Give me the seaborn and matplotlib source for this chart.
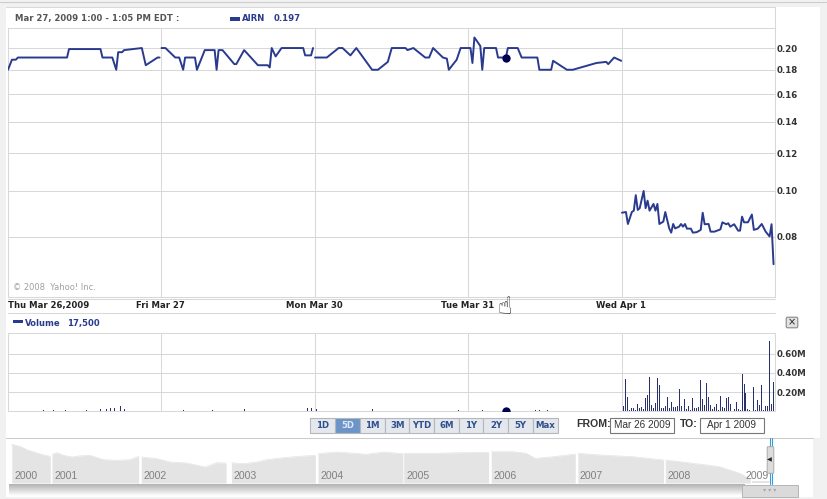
import numpy as np
import pandas as pd
import matplotlib
matplotlib.use("Agg")
import matplotlib.pyplot as plt
import seaborn as sns
from matplotlib.patches import Rectangle, FancyBboxPatch

# cours AIRN, temps en minutes de bourse depuis l'ouverture du 26 mars
t_seg1 = [0, 10, 20, 25, 150, 155, 235, 240, 265, 275, 280, 290, 295, 340, 350, 380, 385]
p_seg1 = [.18, .189, .189, .191, .191, .199, .199, .191, .191, .18, .196, .196, .198, .2, .184, .191, .191]
t_seg2 = [390, 400, 425, 435, 445, 450, 475, 480, 500, 525, 530, 535, 545, 575, 580, 600, 635, 660, 665, 670, 680, 695, 750, 755, 770, 775]
p_seg2 = [.2, .2, .191, .191, .18, .191, .191, .18, .198, .198, .18, .198, .198, .185, .185, .198, .184, .184, .182, .2, .192, .2, .2, .193, .193, .2]
t_seg3 = [780, 810, 840, 850, 870, 885, 925, 940, 965, 975, 1010, 1015, 1030, 1060, 1070, 1080, 1105, 1115, 1120, 1140, 1150, 1170,
          1175, 1180, 1185, 1200, 1205, 1210, 1240, 1245, 1265, 1270, 1295, 1305, 1345, 1350, 1380, 1385, 1420, 1435, 1495, 1520, 1525, 1540, 1558]
p_seg3 = [.191, .191, .2, .2, .193, .2, .18, .18, .187, .2, .2, .198, .2, .191, .191, .2, .191, .19, .18, .189, .2, .2,
          .2, .186, .2105, .202, .18, .2, .2, .191, .191, .2, .2, .191, .191, .18, .18, .188, .18, .18, .186, .187, .185, .191, .188]
t_seg4 = [1560, 1570, 1575, 1585, 1590, 1595, 1600, 1605, 1615, 1620, 1625, 1630, 1640, 1645, 1650, 1655, 1665, 1670, 1680, 1685,
          1690, 1695, 1705, 1710, 1715, 1720, 1725, 1735, 1740, 1750, 1760, 1765, 1770, 1780, 1785, 1795, 1810, 1815, 1825, 1830,
          1835, 1845, 1855, 1860, 1865, 1870, 1880, 1890, 1895, 1905, 1915, 1925, 1935, 1940, 1945]
p_seg4 = [.09, .0903, .0852, .0903, .0909, .098, .0912, .092, .1, .092, .0954, .0909, .0939, .0909, .0939, .0852, .0862, .0903, .0834, .0817,
          .0852, .0834, .0841, .0852, .0841, .0852, .0833, .0833, .0817, .0819, .0828, .09, .0851, .0852, .0821, .0821, .083, .0859, .0851, .0855,
          .0841, .0851, .0825, .0825, .0883, .0859, .0859, .0892, .0828, .0833, .0852, .0821, .0802, .0851, .0701]

t_vol_old = [90, 115, 145, 200, 235, 250, 260, 270, 285, 295, 445, 520, 600, 625, 760, 770, 785, 925, 1145, 1205, 1340, 1350, 1370]
v_vol_old = [.01, .01, .01, .01, .02, .02, .03, .03, .05, .02, .01, .01, .02, .02, .03, .03, .02, .02, .01, .01, .01, .01, .01]
t_vol_apr1 = list(range(1565, 1950, 5))
v_vol_apr1 = [.06, .34, .146, .01, .03, .03, .01, .08, .03, .04, .02, .14, .167, .354, .07, .035, .09, .345, .27, .03,
              .035, .06, .146, .035, .10, .04, .045, .05, .23, .06, .045, .125, .02, .05, .01, .135, .035, .03, .04, .32,
              .125, .07, .29, .15, .07, .02, .045, .08, .01, .156, .04, .03, .135, .146, .08, .005, .02, .10, .02, .01,
              .385, .28, .19, .02, .01, .005, .25, .01, .115, .07, .27, .01, .06, .06, .73, .08, .30]

day_edges = [0, 390, 780, 1170, 1560, 1950]
day_labels = ["Thu Mar 26,2009", "Fri Mar 27", "Mon Mar 30", "Tue Mar 31", "Wed Apr 1"]
price_ticks = [.08, .10, .12, .14, .16, .18, .20]
price_labels = ["0.08", "0.10", "0.12", "0.14", "0.16", "0.18", "0.20"]
vol_ticks = [.2, .4, .6]
vol_labels = ["0.20M", "0.40M", "0.60M"]
range_buttons = ["1D", "5D", "1M", "3M", "YTD", "6M", "1Y", "2Y", "5Y", "Max"]

# navigateur : historique par tranche annuelle (niveau relatif)
nav_years = [
    [2000.54, 2000.63, 2000.73, 2000.83, 2000.92, 2000.98],
    [2001.00, 2001.06, 2001.13, 2001.23, 2001.30, 2001.43, 2001.59, 2001.74, 2001.89, 2001.99],
    [2002.02, 2002.20, 2002.35, 2002.54, 2002.75, 2002.88, 2002.99],
    [2003.05, 2003.19, 2003.34, 2003.45, 2003.64, 2003.83, 2004.01],
    [2004.04, 2004.25, 2004.52, 2004.59, 2004.79, 2005.01],
    [2005.02, 2005.36, 2005.66, 2005.99],
    [2006.02, 2006.27, 2006.42, 2006.52, 2006.73, 2006.98],
    [2007.01, 2007.26, 2007.64, 2007.99],
    [2008.01, 2008.33, 2008.63, 2008.86, 2008.98],
    [2009.00, 2009.20],
]
nav_levels = [
    [38.7, 36.7, 32.7, 30, 27.7, 26.7],
    [28.7, 30.3, 27.7, 26, 27, 27.7, 23.3, 22.7, 23.3, 26.7],
    [26, 24.3, 21, 20, 16, 20.3, 20],
    [20.3, 19.3, 21, 23.3, 25.3, 26.7, 27.7],
    [29.3, 31, 29.3, 28.7, 31, 29.3],
    [29.7, 29.7, 30.3, 30.7],
    [31.3, 31.3, 29.7, 24.7, 26.3, 29],
    [29.7, 28, 26.3, 23],
    [23, 19.7, 16.3, 9.7, 4],
    [2, 2],
]
nav_names = ["2000", "2001", "2002", "2003", "2004", "2005", "2006", "2007", "2008", "2009"]

W, H = 828, 499
BLUE = "#2a3b8f"
NAVY = "#000050"
GRID = "#d8d8d8"


def px_axes(x0, y0, x1, y1, **kw):
    # axes placés en pixels de l'image
    return fig.add_axes([x0 / W, 1 - y1 / H, (x1 - x0) / W, (y1 - y0) / H], **kw)


sns.set_theme(style="white")
plt.rcParams["font.family"] = ["DejaVu Sans"]

fig = plt.figure(figsize=(W / 100, H / 100), dpi=100, facecolor="#f1f1f1")
fig.add_artist(Rectangle((6 / W, 1 - 438 / H), 814 / W, 431 / H, transform=fig.transFigure, fc="white", ec="none", zorder=-5))
fig.add_artist(Rectangle((6 / W, 1 - 497 / H), 807 / W, 59 / H, transform=fig.transFigure, fc="white", ec="none", zorder=-5))

# graphique du cours
ax = px_axes(8, 28, 775.5, 297)
ax.patch.set_visible(False)
prices = pd.concat([
    pd.DataFrame({"t": t, "p": p, "seg": i})
    for i, (t, p) in enumerate([(t_seg1, p_seg1), (t_seg2, p_seg2), (t_seg3, p_seg3), (t_seg4, p_seg4)])
])
sns.lineplot(data=prices, x="t", y="p", units="seg", estimator=None, color=BLUE, lw=1.4, ax=ax, zorder=3)
sns.scatterplot(x=[1265], y=[.191], color=NAVY, s=36, linewidth=0, ax=ax, zorder=4)
ax.set_yscale("log")
ax.set_ylim(.0598, .2204)
ax.set_xlim(0, 1950)

# graphique du volume
ax_vol = px_axes(8, 333.3, 775.5, 411.3)
ax_vol.patch.set_visible(False)
sns.barplot(x=t_vol_old + t_vol_apr1, y=v_vol_old + v_vol_apr1, native_scale=True, width=.5,
            color="#28306e", saturation=1, errorbar=None, linewidth=0, ax=ax_vol, zorder=3)
sns.scatterplot(x=[1265], y=[0], color=NAVY, s=36, linewidth=0, ax=ax_vol, zorder=4)
ax_vol.set_ylim(0, .81)
ax_vol.set_xlim(0, 1950)

for a, ticks, labels in [(ax, price_ticks, price_labels), (ax_vol, vol_ticks, vol_labels)]:
    a.set_xlabel("")
    a.set_ylabel("")
    a.set_xticks(day_edges)
    a.set_xticklabels([])
    a.xaxis.set_minor_locator(matplotlib.ticker.NullLocator())
    a.yaxis.set_minor_locator(matplotlib.ticker.NullLocator())
    a.yaxis.set_minor_formatter(matplotlib.ticker.NullFormatter())
    a.set_yticks(ticks)
    a.set_yticklabels(labels, fontsize=6.2, fontweight="bold", color="#333333")
    a.yaxis.tick_right()
    a.tick_params(length=0, pad=1)
    a.grid(True, color=GRID, lw=.75)
    a.set_axisbelow(True)
    for s in a.spines.values():
        s.set_color(GRID)
        s.set_linewidth(.75)

# navigateur
ax_nav = px_axes(8, 440, 775, 483)
ax_nav.patch.set_visible(False)
for yrs, lev in zip(nav_years, nav_levels):
    sns.lineplot(x=yrs, y=lev, color="#e4e4e4", lw=.5, ax=ax_nav)
    ax_nav.fill_between(yrs, lev, 0, color="#e4e4e4", lw=0)
ax_nav.set_xlim(2000.497, 2009.263)
ax_nav.set_ylim(0, 43)
ax_nav.axis("off")

# habillage en coordonnées pixels
ui = px_axes(0, 0, W, H, zorder=5)
ui.set_xlim(0, W)
ui.set_ylim(H, 0)
ui.axis("off")

ui.plot([0, W], [1.5, 1.5], color="#cccccc", lw=.75)
ui.plot([6, 775.5], [7, 7], color=GRID, lw=.75)
ui.plot([775.5, 775.5], [7, 28], color=GRID, lw=.75)
ui.plot([8, 775.5], [298.5, 298.5], color=GRID, lw=.75)
ui.plot([8, 775.5], [312.5, 312.5], color=GRID, lw=.75)
ui.plot([6, 813], [438, 438], color="#cccccc", lw=.75)

bold = dict(fontweight="bold", va="center", ha="left")
ui.text(15, 18.5, "Mar 27, 2009 1:00 - 1:05 PM EDT :", color="#555555", fontsize=6.15, **bold)
ui.add_patch(Rectangle((230, 17), 10, 4, fc=BLUE, ec="none"))
ui.text(242, 18.5, "AIRN", color=BLUE, fontsize=6.15, **bold)
ui.text(274, 18.5, "0.197", color=BLUE, fontsize=6.15, **bold)
ui.add_patch(Rectangle((13, 320), 10, 3, fc=BLUE, ec="none"))
ui.text(25, 323.5, "Volume", color=BLUE, fontsize=6.15, **bold)
ui.text(67, 323.5, "17,500", color=BLUE, fontsize=6.15, **bold)
ui.text(13, 288, "© 2008  Yahoo! Inc.", color="#a0a0a0", fontsize=6, va="center", ha="left")

for x, lab in zip([8, 136, 286, 441, 596], day_labels):
    ui.text(x, 305.5, lab, color="#222222", fontsize=6.1, **bold)
ui.text(505, 307.5, "☝", fontsize=17, ha="center", va="center", color="#222222")

# bouton de fermeture
ui.add_patch(FancyBboxPatch((787, 318), 10, 9, boxstyle="round,pad=0.8,rounding_size=1.5", fc="#e2e2e2", ec="#888888", lw=.8))
ui.text(792, 322.5, "×", fontsize=7, ha="center", va="center", color="#222222")

# boutons de période
edges = [310, 335, 360, 385, 409.5, 434.5, 459, 483.5, 508.5, 533, 558]
for i, lab in enumerate(range_buttons):
    on = lab == "5D"
    ui.add_patch(Rectangle((edges[i], 417.5), edges[i + 1] - edges[i], 15, fc="#6d94c8" if on else "#e4e7eb", ec="#b4b8bd", lw=.8))
    ui.text((edges[i] + edges[i + 1]) / 2, 425, lab, fontsize=6.2, fontweight="bold", ha="center", va="center",
            color="#dfe8f5" if on else "#2f4f8f")

ui.text(576, 424, "FROM:", fontsize=7.6, fontweight="bold", family="Liberation Sans", color="#333333", va="center", ha="left")
ui.text(680, 424, "TO:", fontsize=7.6, fontweight="bold", family="Liberation Sans", color="#333333", va="center", ha="left")
ui.add_patch(Rectangle((610, 417.5), 64, 15, fc="white", ec="#777777", lw=.8))
ui.add_patch(Rectangle((700, 417.5), 64, 15, fc="white", ec="#777777", lw=.8))
ui.text(642, 425.5, "Mar 26 2009", fontsize=7.2, family="Liberation Sans", color="#333333", ha="center", va="center")
ui.text(732, 425.5, "Apr 1 2009", fontsize=7.2, family="Liberation Sans", color="#333333", ha="center", va="center")

for x, lab in zip([15, 55, 144, 234, 321, 407, 494, 580, 668, 746], nav_names):
    ui.text(x, 476, lab, fontsize=7.6, family="Liberation Sans", color="#808080", ha="left", va="center")

# ombre sous le navigateur et poignées
shade = np.linspace(.7, 1, 24).reshape(-1, 1)
ui.imshow(shade, extent=(9, 745, 496, 484.5), cmap="gray", vmin=0, vmax=1, aspect="auto", zorder=1)
ui.set_xlim(0, W)
ui.set_ylim(H, 0)
ui.plot([770, 770], [438, 484], color="#3a9ad9", lw=.8)
ui.plot([772.5, 772.5], [438, 484], color="#3a9ad9", lw=.8)
ui.add_patch(FancyBboxPatch((767.5, 447), 6, 26, boxstyle="round,pad=0.3,rounding_size=1", fc="#dcdcdc", ec="#aaaaaa", lw=.7, zorder=3))
ui.text(769.5, 459.5, "◀", fontsize=4.5, ha="center", va="center", color="#222222", zorder=4)
ui.add_patch(Rectangle((742, 484.5), 56, 12.5, fc="#dadada", ec="#b5b5b5", lw=.7, zorder=3))
ui.text(770, 491, "▾ ▾ ▾", fontsize=4.5, ha="center", va="center", color="#a8a8a8", zorder=4)

fig.savefig("out.png", dpi=100, facecolor=fig.get_facecolor())
